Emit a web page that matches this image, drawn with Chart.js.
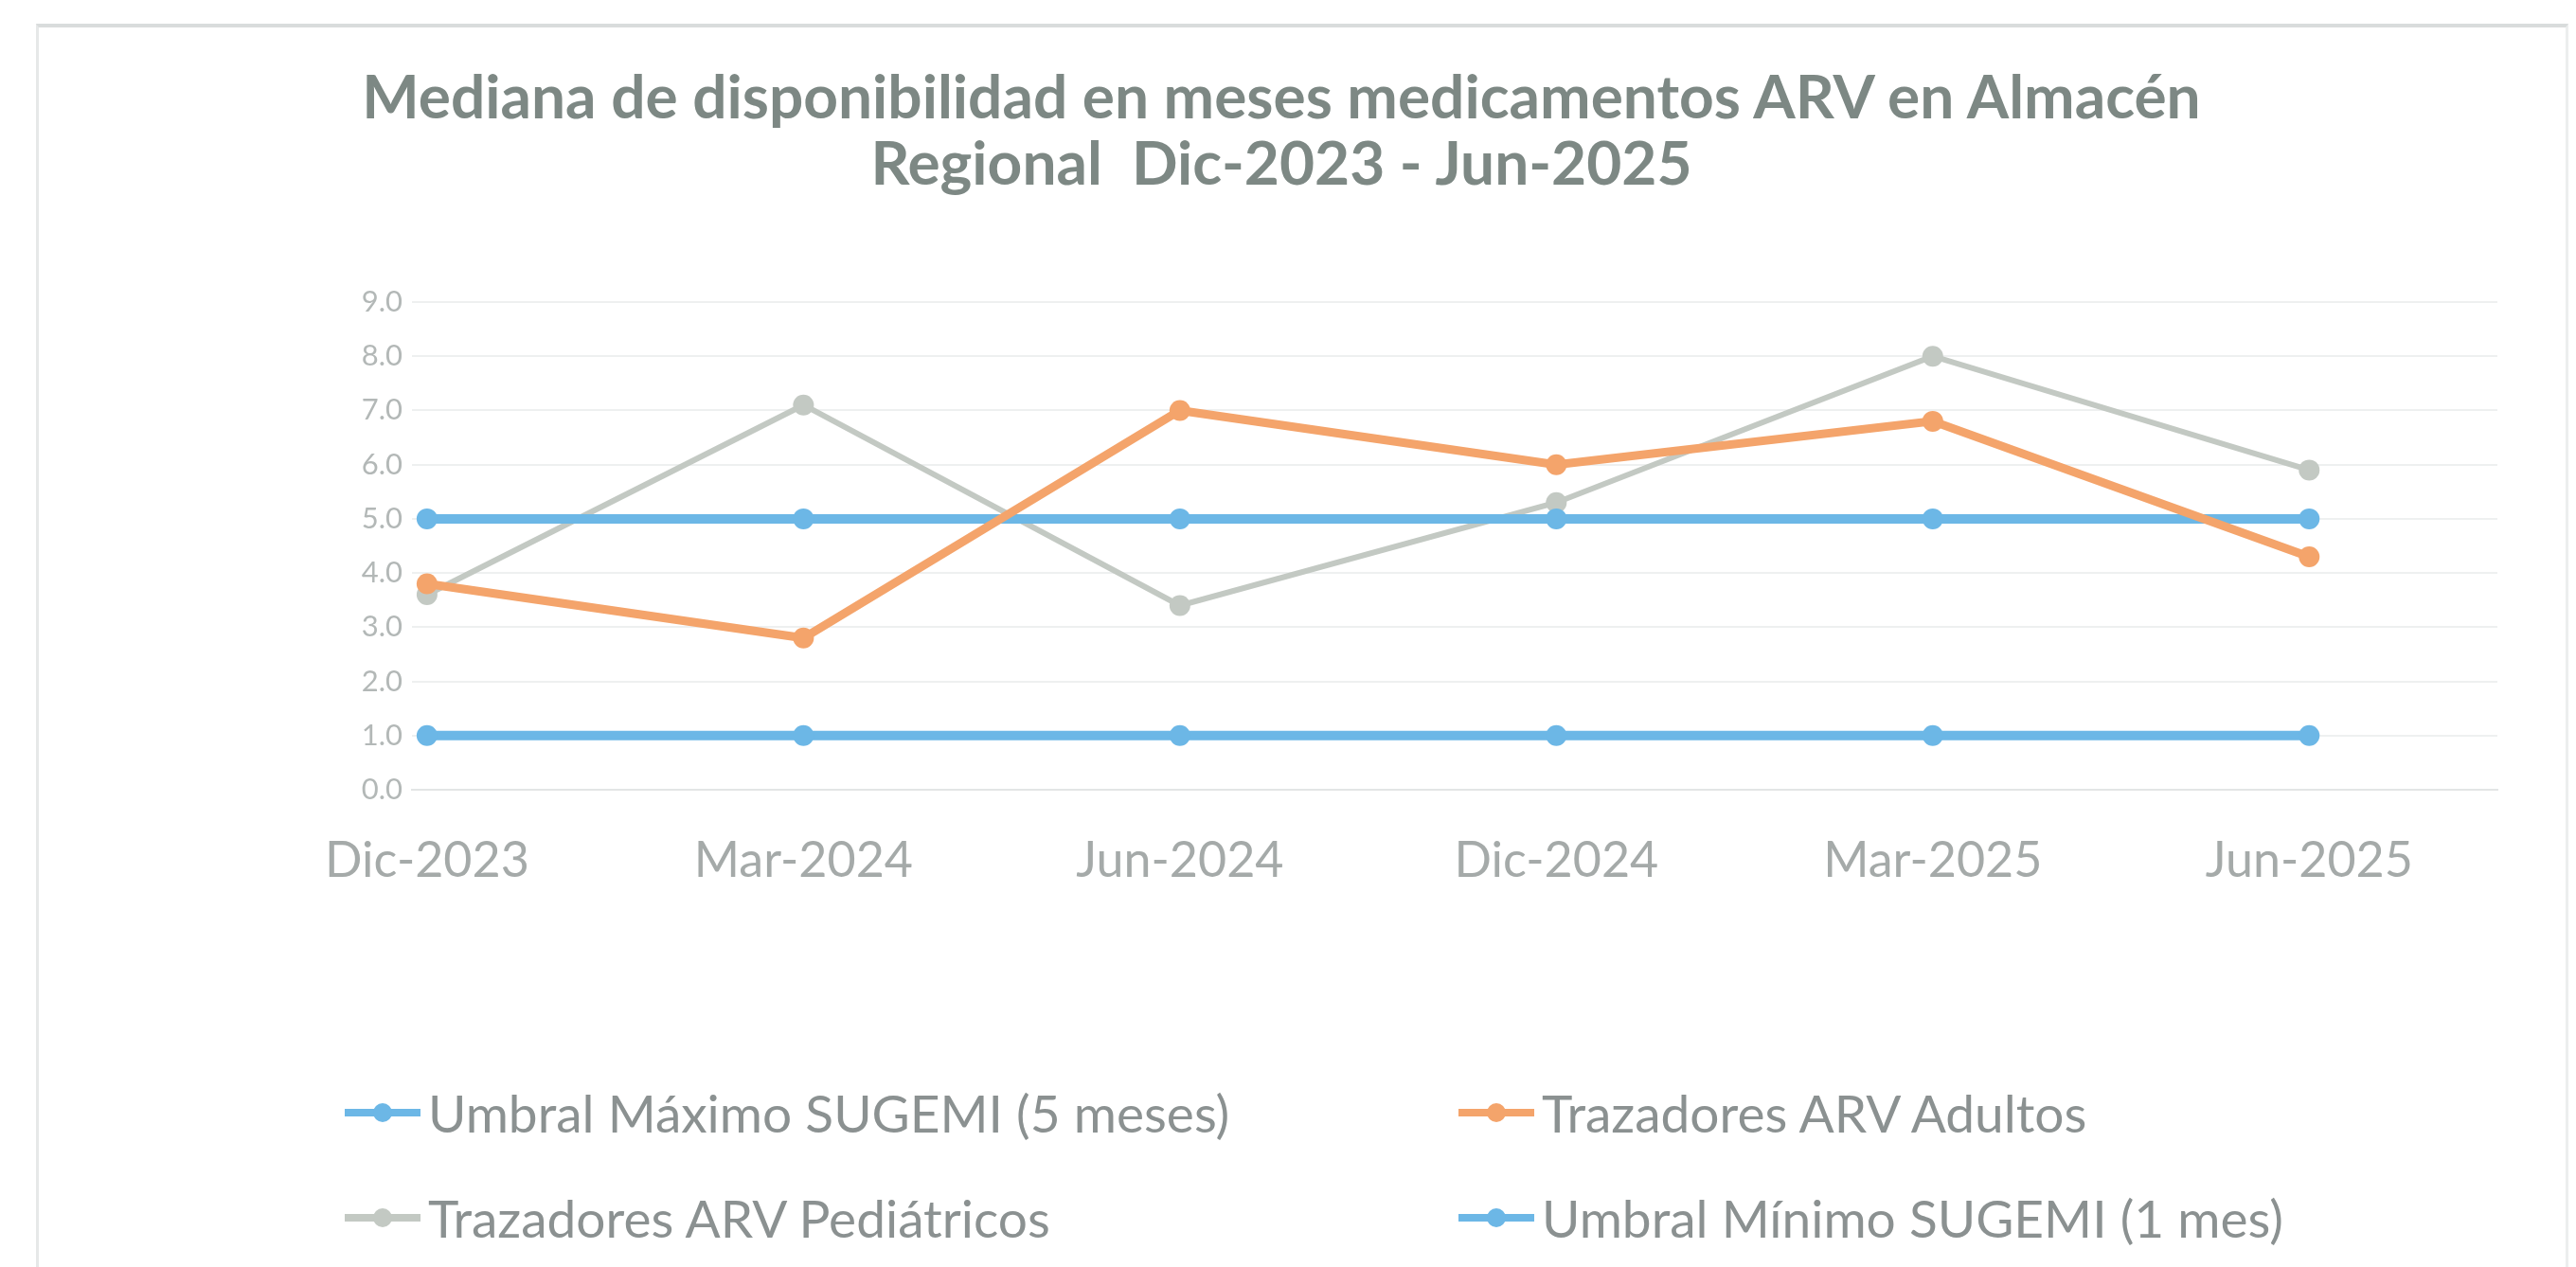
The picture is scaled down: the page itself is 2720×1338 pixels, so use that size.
<!DOCTYPE html>
<html>
<head>
<meta charset="utf-8">
<script src="https://cdn.jsdelivr.net/npm/chart.js@4.4.1/dist/chart.umd.min.js"></script>
<style>
  html, body { margin:0; padding:0; background:#ffffff; }
  body { width:2720px; height:1338px; position:relative; overflow:hidden; font-family:"Lato", "Open Sans", sans-serif; }
  #frame { position:absolute; left:38px; top:25px; width:2674px; height:1400px; border-top:4px solid #d9dcdc; border-left:3px solid #e6e8e8; border-right:3px solid #eceeee; box-sizing:border-box; }
  #title { position:absolute; left:0; width:2706px; top:66px; text-align:center; font-weight:700; font-size:64px; line-height:70px; color:#7d8884; }
  #chart { position:absolute; left:0; top:0; }
  #legend { position:absolute; left:0; top:0; }
  .item { position:absolute; display:flex; align-items:center; font-size:55px; color:#8b9191; white-space:nowrap; }
  .mk { position:relative; width:80px; height:40px; margin-right:8px; }
  .mk .ln { position:absolute; left:0; right:0; top:16px; height:8px; }
  .mk .dt { position:absolute; left:30px; top:10px; width:20px; height:20px; border-radius:50%; }
</style>
</head>
<body>
<div id="frame"></div>
<div id="title">Mediana de disponibilidad en meses medicamentos ARV en Almacén<br>Regional&nbsp; Dic-2023 - Jun-2025</div>
<canvas id="chart" width="2720" height="1338"></canvas>
<div id="legend"></div>
<script>
const categories = ["Dic-2023", "Mar-2024", "Jun-2024", "Dic-2024", "Mar-2025", "Jun-2025"];
const umbralMaximo = [5.0, 5.0, 5.0, 5.0, 5.0, 5.0];
const adultos = [3.8, 2.8, 7.0, 6.0, 6.8, 4.3];
const pediatricos = [3.6, 7.1, 3.4, 5.3, 8.0, 5.9];
const umbralMinimo = [1.0, 1.0, 1.0, 1.0, 1.0, 1.0];
const yTicks = [0, 1, 2, 3, 4, 5, 6, 7, 8, 9];

const seriesNames = ["Umbral Máximo SUGEMI (5 meses)", "Trazadores ARV Adultos", "Trazadores ARV Pediátricos", "Umbral Mínimo SUGEMI (1 mes)"];
const seriesColors = ["#6cb7e6", "#f4a46b", "#c3c9c3", "#6cb7e6"];
const seriesValues = [umbralMaximo, adultos, pediatricos, umbralMinimo];
const seriesWidths = [10, 9, 6, 10];

const toPoints = vals => vals.map((v, i) => ({ x: i, y: v }));

const datasets = seriesValues.map((vals, k) => ({
  label: seriesNames[k],
  data: toPoints(vals),
  borderColor: seriesColors[k],
  backgroundColor: seriesColors[k],
  borderWidth: seriesWidths[k],
  pointRadius: 11,
  pointBorderWidth: 0,
  pointHoverRadius: 11,
  tension: 0,
  order: [2, 1, 3, 0][k]
}));

const chart = new Chart(document.getElementById('chart'), {
  type: 'line',
  data: { datasets },
  options: {
    responsive: false,
    animation: false,
    devicePixelRatio: 1,
    layout: { padding: { top: 319, right: 83, left: 0, bottom: 0 } },
    plugins: { legend: { display: false }, title: { display: false }, tooltip: { enabled: false } },
    scales: {
      x: {
        type: 'linear',
        min: -0.04,
        max: 5.5,
        afterBuildTicks: s => { s.ticks = categories.map((c, i) => ({ value: i })); },
        afterFit: s => { s.height = 1338 - 834; },
        grid: { display: false, drawTicks: false },
        border: { display: true, color: '#e3e5e5', width: 2 },
        ticks: {
          padding: 44,
          autoSkip: false,
          maxRotation: 0,
          font: { family: 'Lato', size: 52 },
          color: '#a5aaa9',
          callback: v => categories[v] ?? ''
        }
      },
      y: {
        min: 0,
        max: 9,
        afterBuildTicks: s => { s.ticks = yTicks.map(v => ({ value: v })); },
        afterFit: s => { s.width = 435; },
        grid: { color: '#eef0f0', lineWidth: 2, drawTicks: false },
        border: { display: false },
        ticks: {
          padding: 10,
          font: { family: 'Lato', size: 31 },
          color: '#b3b8b7',
          callback: v => Number(v).toFixed(1)
        }
      }
    }
  }
});

// HTML legend built from chart datasets, 2x2 grid as in the reference
const legendPos = [
  { left: 364, top: 1142 },
  { left: 1540, top: 1142 },
  { left: 364, top: 1253 },
  { left: 1540, top: 1253 }
];
const legend = document.getElementById('legend');
chart.data.datasets.forEach((ds, k) => {
  const it = document.createElement('div');
  it.className = 'item';
  it.style.left = legendPos[k].left + 'px';
  it.style.top = legendPos[k].top + 'px';
  const mk = document.createElement('div');
  mk.className = 'mk';
  const ln = document.createElement('div'); ln.className = 'ln'; ln.style.background = ds.borderColor;
  const dt = document.createElement('div'); dt.className = 'dt'; dt.style.background = ds.borderColor;
  mk.appendChild(ln); mk.appendChild(dt);
  const tx = document.createElement('span'); tx.textContent = ds.label;
  it.appendChild(mk); it.appendChild(tx);
  legend.appendChild(it);
});
</script>
</body>
</html>
